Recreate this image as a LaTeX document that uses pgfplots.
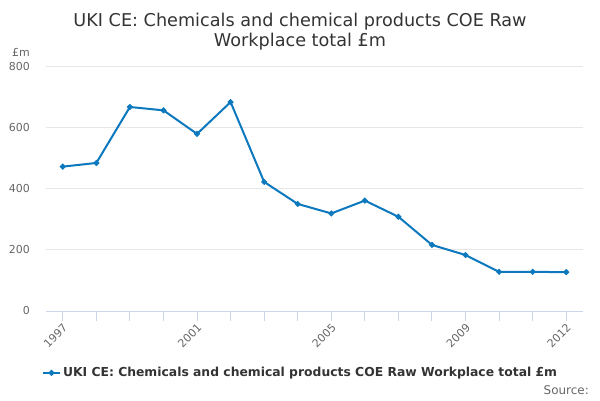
\documentclass[border=0pt]{standalone}
\usepackage{pgfplots}
\pgfplotsset{compat=1.18}
\usepackage{fontspec}
\setmainfont{DejaVu Sans}
\definecolor{serie}{HTML}{0C78BE}
\definecolor{titlec}{HTML}{333333}
\definecolor{labc}{HTML}{666666}
\definecolor{gridc}{HTML}{E6E6E6}
\definecolor{axc}{HTML}{CCD6EB}
\begin{document}
\begin{tikzpicture}[x=1bp,y=1bp]
\path[use as bounding box] (0,0) rectangle (600,400);
\node[font=\fontsize{17.7}{20}\selectfont, text=titlec, align=center] at (300,368.5) {UKI CE: Chemicals and chemical products COE Raw\\Workplace total £m};
\node[font=\fontsize{11}{13}\selectfont, text=labc, anchor=west, inner sep=0] at (12,348) {£m};
\node[font=\fontsize{12}{14}\selectfont, text=labc, anchor=east, inner sep=0] at (589,10) {Source:};
\begin{axis}[
  at={(46bp,89bp)}, anchor=south west,
  scale only axis, width=537bp, height=244.7bp,
  xmin=1996.5, xmax=2012.5, ymin=0, ymax=800,
  axis lines*=left,
  y axis line style={draw=none},
  x axis line style={draw=axc, line width=1bp},
  ytick={0,200,400,600,800},
  ymajorgrids, grid style={draw=gridc, line width=1bp},
  ytick style={draw=none},
  xtick={1997,2001,2005,2009,2012},
  minor xtick={1998,1999,2000,2002,2003,2004,2006,2007,2008,2010,2011},
  xtick style={draw=axc, line width=1bp},
  xminorgrids=false,
  tick align=outside,
  major tick length=10bp, minor tick length=10bp,
  /pgf/number format/assume math mode=true,
  /pgf/number format/1000 sep={},
  ticklabel style={font=\fontsize{11}{13}\selectfont, text=labc},
  yticklabel style={anchor=east, inner sep=0pt},
  yticklabel shift=6bp,
  xticklabel style={rotate=45, anchor=north east, inner sep=0pt, yshift=-1bp, xshift=-1.5bp},
  legend style={at={(0.474,-0.253)}, anchor=center, draw=none, fill=none,
    font=\bfseries\fontsize{12.4}{14}\selectfont, text=titlec},
  legend cell align=left,
]
\addplot[serie, line width=2bp, mark=*, mark size=1.8bp] table {
x y
1997 472
1998 484
1999 667
2000 656
2001 579
2002 683
2003 422
2004 350
2005 319
2006 361
2007 308
2008 216
2009 183
2010 128
2011 128
2012 127
};
\addlegendentry{UKI CE: Chemicals and chemical products COE Raw Workplace total £m}
\end{axis}
\end{tikzpicture}
\end{document}
